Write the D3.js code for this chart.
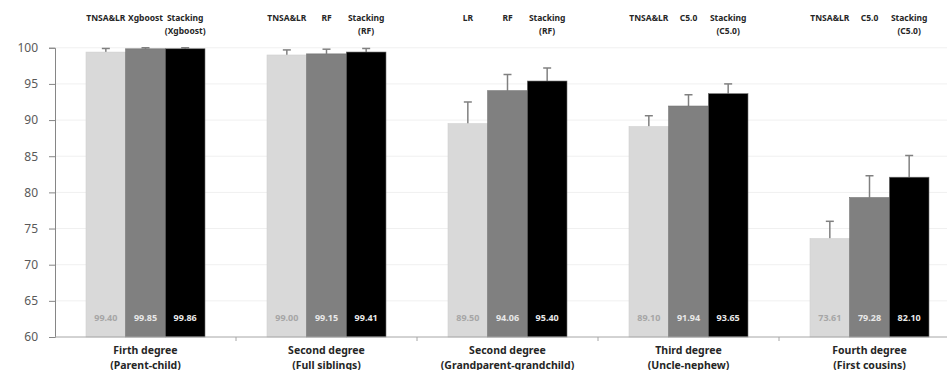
<!DOCTYPE html>
<html>
<head>
<meta charset="utf-8">
<script src="https://cdn.jsdelivr.net/npm/d3@7"></script>
<style>
  html, body { margin: 0; padding: 0; background: #fff; }
  svg { display: block; }
</style>
</head>
<body>
<div id="chart"></div>
<script>
// ── Data ────────────────────────────────────────────────────
const groups = [
  ['Firth degree', '(Parent-child)'],
  ['Second degree', '(Full siblings)'],
  ['Second degree', '(Grandparent-grandchild)'],
  ['Third degree', '(Uncle-nephew)'],
  ['Fourth degree', '(First cousins)']
];

const methodLabels = [
  [['TNSA&LR'], ['Xgboost'], ['Stacking', '(Xgboost)']],
  [['TNSA&LR'], ['RF'], ['Stacking', '(RF)']],
  [['LR'], ['RF'], ['Stacking', '(RF)']],
  [['TNSA&LR'], ['C5.0'], ['Stacking', '(C5.0)']],
  [['TNSA&LR'], ['C5.0'], ['Stacking', '(C5.0)']]
];

const baseValues  = [99.40, 99.00, 89.50, 89.10, 73.61];
const mlValues    = [99.85, 99.15, 94.06, 91.94, 79.28];
const stackValues = [99.86, 99.41, 95.40, 93.65, 82.10];

// upper end of error bars
const baseErr  = [99.9, 99.7, 92.5, 90.6, 76.0];
const mlErr    = [100.0, 99.8, 96.3, 93.5, 82.3];
const stackErr = [100.0, 99.9, 97.2, 95.0, 85.1];

const yTicks = [60, 65, 70, 75, 80, 85, 90, 95, 100];

// ── Layout ──────────────────────────────────────────────────
const width = 947, height = 370;
const x0Left = 55, groupW = 181;
const yTop = 47.75, yBottom = 337;

const fills      = ['#d9d9d9', '#808080', '#000000'];
const labelFills = ['#a6a6a6', '#e8e8e8', '#e8e8e8'];
const font = 'Noto Sans, sans-serif';

const svg = d3.select('#chart')
  .append('svg')
  .attr('width', width)
  .attr('height', height);

// ── Scales ──────────────────────────────────────────────────
const x0 = d3.scaleBand()
  .domain(d3.range(groups.length))
  .range([x0Left, x0Left + groupW * groups.length]);

const x1 = d3.scaleBand()
  .domain([0, 1, 2])
  .range([31, 150]);

const y = d3.scaleLinear()
  .domain([60, 100])
  .range([yBottom, yTop]);

// ── Gridlines ───────────────────────────────────────────────
svg.append('g')
  .selectAll('line')
  .data(yTicks.slice(1))
  .join('line')
  .attr('x1', x0Left).attr('x2', width)
  .attr('y1', d => y(d)).attr('y2', d => y(d))
  .attr('stroke', '#f0f0f0')
  .attr('stroke-width', 1);

// ── Bars ────────────────────────────────────────────────────
const rows = groups.map((g, i) => [
  { v: baseValues[i],  e: baseErr[i],  k: 0 },
  { v: mlValues[i],    e: mlErr[i],    k: 1 },
  { v: stackValues[i], e: stackErr[i], k: 2 }
]);

const gGroup = svg.append('g')
  .selectAll('g')
  .data(rows)
  .join('g')
  .attr('transform', (d, i) => `translate(${x0(i)},0)`);

const cx = k => x1(k) + x1.bandwidth() / 2;

// error bars (drawn first so bars sit over the lower half)
gGroup.selectAll('line.err')
  .data(d => d)
  .join('line')
  .attr('class', 'err')
  .attr('x1', d => cx(d.k)).attr('x2', d => cx(d.k))
  .attr('y1', d => y(d.v))
  .attr('y2', d => y(d.e))
  .attr('stroke', '#808080')
  .attr('stroke-width', 1.5);

gGroup.selectAll('line.cap')
  .data(d => d)
  .join('line')
  .attr('class', 'cap')
  .attr('x1', d => cx(d.k) - 4)
  .attr('x2', d => cx(d.k) + 4)
  .attr('y1', d => y(d.e))
  .attr('y2', d => y(d.e))
  .attr('stroke', '#808080')
  .attr('stroke-width', 1.5);

gGroup.selectAll('rect')
  .data(d => d)
  .join('rect')
  .attr('x', d => x1(d.k))
  .attr('width', x1.bandwidth())
  .attr('y', d => y(d.v))
  .attr('height', d => y(60) - y(d.v))
  .attr('fill', d => fills[d.k])
  .attr('stroke', d => d.k === 0 ? '#cfcfcf' : '#6e6e6e')
  .attr('stroke-width', 0.6);

// value labels inside bars
gGroup.selectAll('text.val')
  .data(d => d)
  .join('text')
  .attr('class', 'val')
  .attr('x', d => cx(d.k))
  .attr('y', 321)
  .attr('text-anchor', 'middle')
  .attr('fill', d => labelFills[d.k])
  .attr('font-size', '9px')
  .attr('font-weight', 'bold')
  .attr('font-family', font)
  .text(d => d.v.toFixed(2));

// method labels above, one text per line
gGroup.each(function (d, i) {
  const g = d3.select(this);
  methodLabels[i].forEach((lines, k) => {
    lines.forEach((s, j) => {
      g.append('text')
        .attr('x', cx(k))
        .attr('y', 21 + j * 13)
        .attr('text-anchor', 'middle')
        .attr('fill', '#262626')
        .attr('font-size', '8.5px')
        .attr('font-weight', 'bold')
        .attr('font-family', font)
        .text(s);
    });
  });
});

// ── Axes ────────────────────────────────────────────────────
const yAxis = svg.append('g')
  .attr('transform', `translate(${x0Left},0)`)
  .call(d3.axisLeft(y).tickValues(yTicks).tickSize(6).tickPadding(11));

yAxis.selectAll('text')
  .attr('fill', '#595959')
  .attr('font-size', '12px')
  .attr('font-family', font);

yAxis.selectAll('.domain, .tick line').attr('stroke', '#868686');

const xAxis = svg.append('g')
  .attr('transform', `translate(0,${yBottom})`);

xAxis.append('line')
  .attr('x1', x0Left).attr('x2', width)
  .attr('y1', 0).attr('y2', 0)
  .attr('stroke', '#a6a6a6');

xAxis.selectAll('line.tick')
  .data(d3.range(1, groups.length))
  .join('line')
  .attr('class', 'tick')
  .attr('x1', d => x0(d)).attr('x2', d => x0(d))
  .attr('y1', 0).attr('y2', 4)
  .attr('stroke', '#a6a6a6');

// category labels, two separate lines
[0, 1].forEach(j => {
  xAxis.selectAll(`text.cat${j}`)
    .data(groups)
    .join('text')
    .attr('class', `cat${j}`)
    .attr('x', (d, i) => x0(i) + x0.bandwidth() / 2)
    .attr('y', 17 + j * 14.5)
    .attr('text-anchor', 'middle')
    .attr('fill', '#262626')
    .attr('font-size', '10.5px')
    .attr('font-weight', 'bold')
    .attr('font-family', font)
    .text(d => d[j]);
});
</script>
</body>
</html>
